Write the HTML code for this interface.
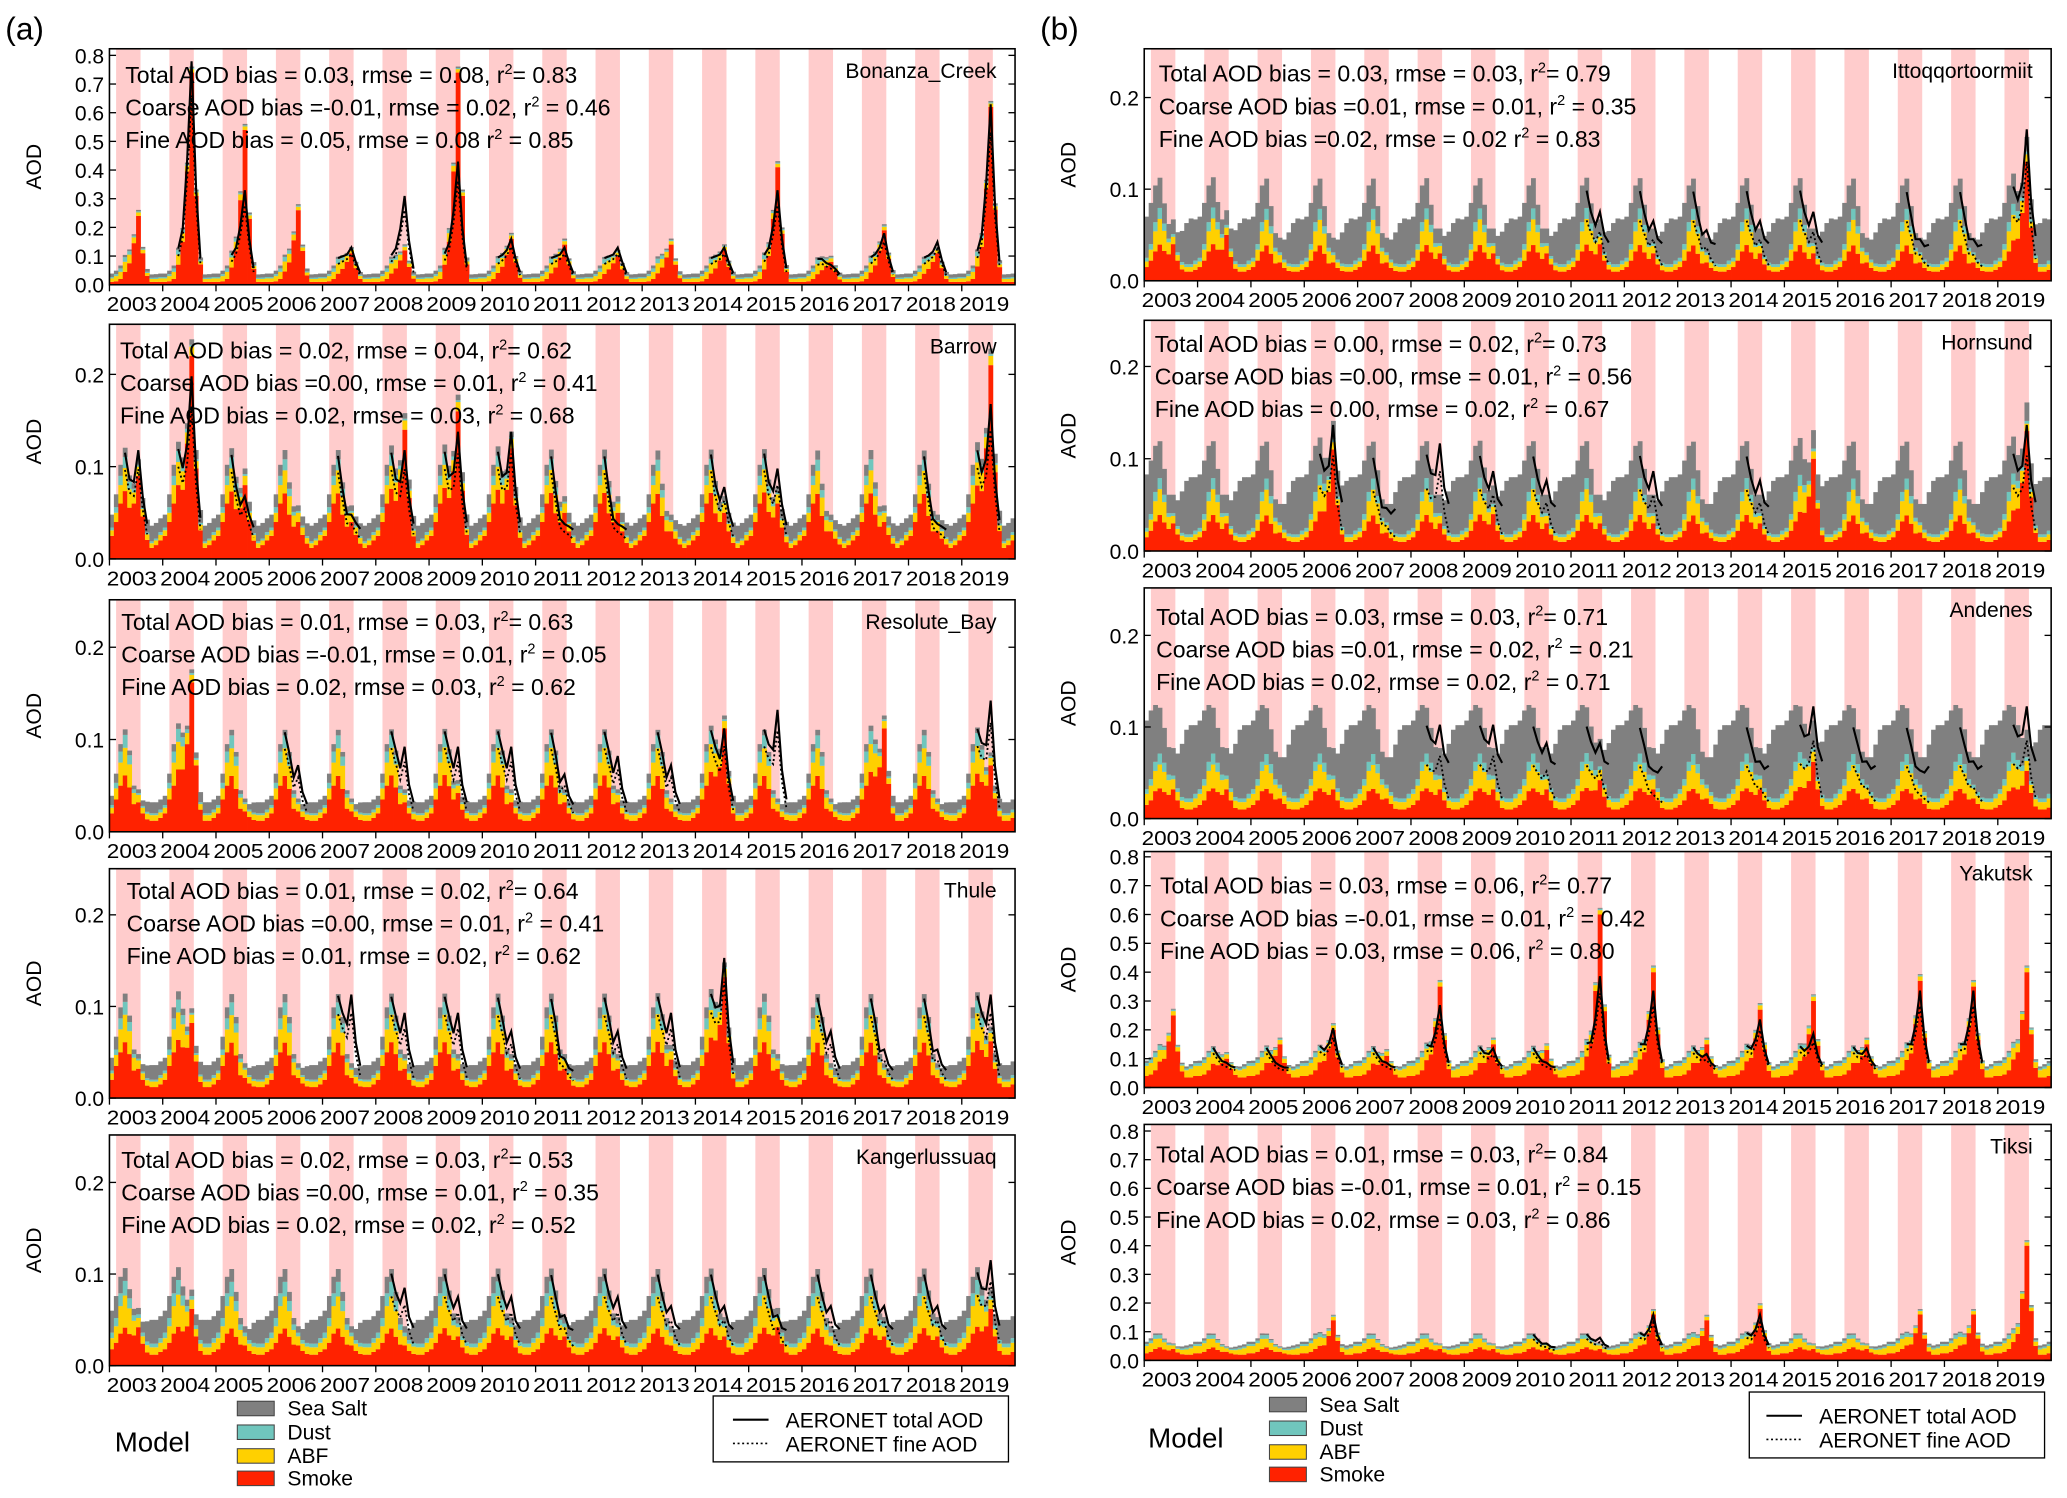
<!DOCTYPE html>
<html><head><meta charset="utf-8"><style>
html,body{margin:0;padding:0;background:#fff}
svg{display:block;font-family:"Liberation Sans",Arial,sans-serif}
</style></head><body>
<svg id="fig" width="2067" height="1498" viewBox="0 0 1568 1136.4" xmlns="http://www.w3.org/2000/svg"></svg>
<script>
// ---------------- DATA ----------------
const years=[2003,2004,2005,2006,2007,2008,2009,2010,2011,2012,2013,2014,2015,2016,2017,2018,2019];
const peakShape=[0,0,0,0.05,0.15,0.5,1,0.4,0.08,0,0,0];
// Bonanza_Creek
const bonSmoke=[.01,.012,.02,.035,.045,.045,.04,.03,.015,.01,.01,.01];
const bonAbf=[.012,.018,.025,.035,.03,.02,.012,.012,.01,.01,.01,.012];
const bonDust=[.005,.007,.012,.016,.012,.006,.004,.004,.004,.004,.005,.005];
const bonSalt=[.012,.012,.01,.008,.006,.005,.005,.006,.01,.012,.012,.012];
const bonPeak=[.2,.7,.5,.22,.07,.08,.7,.12,.1,.06,.1,.08,.37,.04,.15,.07,.58];
const bonAero=[0,.75,.3,0,.1,.28,.4,.13,.1,.1,0,.1,.3,.04,.15,.12,.6];
// Barrow
const barSmoke=[.025,.04,.06,.07,.045,.025,.02,.018,.015,.012,.015,.02];
const barAbf=[.006,.01,.02,.025,.02,.012,.01,.008,.006,.005,.005,.006];
const barDust=[.003,.006,.01,.012,.008,.004,.002,.002,.002,.002,.002,.003];
const barSalt=[.014,.014,.012,.01,.007,.006,.006,.01,.014,.017,.017,.015];
const barPeak=[.07,.2,.06,.02,.02,.12,.14,.1,.03,.03,.01,.03,.04,.01,.02,.01,.19];
const barAero=[.1,.18,.05,0,.03,.1,.12,.12,.02,.02,0,.06,.08,0,0,.02,.15];
// Resolute_Bay
const resSmoke=[.02,.035,.05,.06,.045,.02,.012,.012,.012,.012,.012,.015];
const resAbf=[.006,.012,.025,.03,.025,.012,.008,.006,.006,.006,.006,.006];
const resDust=[.003,.006,.012,.014,.01,.004,.002,.002,.002,.002,.002,.003];
const resSalt=[.01,.01,.008,.006,.005,.004,.004,.006,.011,.012,.012,.011];
const resPeak=[.02,.15,.01,.01,.01,.02,.03,.02,.02,.02,.01,.1,.01,.01,.1,.01,.06];
const resAero=[0,0,0,.06,0,.08,.08,.08,.05,.07,.06,.1,.12,0,0,0,.13];
// Thule
const thuSmoke=[.02,.035,.05,.06,.045,.02,.012,.012,.012,.012,.012,.015];
const thuAbf=[.007,.012,.025,.03,.025,.014,.009,.007,.006,.006,.006,.007];
const thuDust=[.003,.006,.012,.014,.01,.004,.002,.002,.002,.002,.002,.003];
const thuSalt=[.014,.014,.012,.009,.007,.005,.005,.008,.014,.016,.016,.015];
const thuPeak=[.02,.07,.01,.01,.01,.02,.02,.02,.02,.02,.03,.12,.02,.01,.01,.01,.05];
const thuAero=[0,0,0,0,.1,.08,.08,.06,.03,.06,.08,.14,0,.06,.04,.04,.1];
// Kangerlussuaq
const kanSmoke=[.018,.025,.035,.04,.03,.018,.012,.012,.012,.012,.012,.015];
const kanAbf=[.012,.018,.03,.035,.028,.016,.01,.008,.008,.008,.008,.01];
const kanDust=[.006,.009,.014,.016,.011,.006,.004,.004,.004,.004,.004,.005];
const kanSalt=[.024,.024,.018,.014,.01,.007,.007,.012,.022,.026,.026,.024];
const kanPeak=[.03,.05,.01,.01,.01,.01,.02,.02,.02,.02,.01,.02,.03,.01,.02,.02,.05];
const kanAero=[0,0,0,0,0,.07,.06,.06,.04,.06,.05,.05,.04,.05,.05,.05,.1];
// Ittoqqortoormiit
const ittSmoke=[.015,.022,.032,.038,.028,.014,.01,.01,.01,.01,.01,.012];
const ittAbf=[.006,.012,.022,.028,.022,.013,.008,.006,.005,.005,.005,.006];
const ittDust=[.004,.006,.01,.012,.008,.004,.003,.003,.003,.003,.003,.004];
const ittSalt=[.045,.045,.04,.033,.022,.016,.016,.022,.034,.045,.05,.045];
const ittPeak=[.03,.04,.01,.01,.01,.02,.02,.02,.03,.02,.01,.02,.02,.01,.01,.01,.12];
const ittAero=[0,0,0,0,0,0,0,0,.06,.05,.04,.05,.06,0,.03,.03,.15];
// Hornsund
const horSmoke=[.015,.022,.032,.038,.028,.014,.01,.01,.01,.01,.01,.012];
const horAbf=[.006,.012,.022,.028,.022,.013,.008,.006,.005,.005,.005,.006];
const horDust=[.004,.006,.01,.012,.008,.004,.003,.003,.003,.003,.003,.004];
const horSalt=[.058,.058,.05,.04,.028,.02,.02,.028,.045,.058,.062,.058];
const horPeak=[.02,.02,.01,.1,.01,.02,.03,.02,.02,.02,.01,.02,.09,.01,.01,.01,.12];
const horAero=[0,0,0,.12,.03,.1,.07,.06,0,.07,0,.06,0,0,0,0,.12];
// Andenes
const andSmoke=[.015,.02,.03,.032,.026,.016,.012,.012,.01,.01,.01,.012];
const andAbf=[.012,.016,.022,.026,.022,.016,.011,.009,.008,.008,.008,.01];
const andDust=[.005,.007,.01,.012,.01,.006,.004,.004,.004,.004,.004,.005];
const andSalt=[.075,.075,.062,.05,.038,.03,.03,.038,.058,.075,.08,.075];
const andPeak=[.02,.02,.01,.02,.01,.02,.02,.02,.03,.02,.01,.02,.05,.01,.01,.01,.04];
const andAero=[0,0,0,0,0,.08,.08,.06,.06,.03,0,.04,.1,.04,.03,.04,.1];
// Yakutsk
const yakSmoke=[.04,.045,.06,.08,.07,.06,.05,.045,.04,.035,.035,.04];
const yakAbf=[.035,.04,.045,.04,.03,.02,.015,.015,.02,.025,.03,.035];
const yakDust=[.01,.012,.016,.016,.011,.007,.005,.005,.005,.006,.008,.009];
const yakSalt=[.008,.008,.006,.005,.004,.003,.003,.003,.005,.007,.008,.008];
const yakPeak=[.2,.05,.1,.15,.06,.3,.1,.08,.55,.35,.1,.22,.25,.1,.32,.3,.35];
const yakAero=[0,.05,.04,.17,.05,.25,.1,.05,.35,.3,.08,.2,.15,.1,.3,.3,0];
// Tiksi
const tikSmoke=[.025,.03,.04,.045,.035,.025,.02,.02,.02,.02,.02,.025];
const tikAbf=[.025,.03,.035,.03,.025,.018,.012,.012,.015,.018,.022,.025];
const tikDust=[.007,.009,.013,.013,.009,.006,.004,.004,.005,.006,.006,.007];
const tikSalt=[.008,.008,.006,.005,.004,.003,.003,.005,.007,.008,.008,.008];
const tikPeak=[.02,.01,.01,.12,.01,.02,.02,.02,.02,.14,.12,.16,.02,.02,.14,.14,.38];
const tikAero=[0,0,0,0,0,0,0,.04,.06,.14,0,.14,0,0,0,0,0];

const statsBon=["Total AOD bias = 0.03, rmse = 0.08, r|2|= 0.83","Coarse AOD bias =-0.01, rmse = 0.02, r|2| = 0.46","Fine AOD bias = 0.05, rmse = 0.08 r|2| = 0.85"];
const statsBar=["Total AOD bias = 0.02, rmse = 0.04, r|2|= 0.62","Coarse AOD bias =0.00, rmse = 0.01, r|2| = 0.41","Fine AOD bias = 0.02, rmse = 0.03, r|2| = 0.68"];
const statsRes=["Total AOD bias = 0.01, rmse = 0.03, r|2|= 0.63","Coarse AOD bias =-0.01, rmse = 0.01, r|2| = 0.05","Fine AOD bias = 0.02, rmse = 0.03, r|2| = 0.62"];
const statsThu=["Total AOD bias = 0.01, rmse = 0.02, r|2|= 0.64","Coarse AOD bias =0.00, rmse = 0.01, r|2| = 0.41","Fine AOD bias = 0.01, rmse = 0.02, r|2| = 0.62"];
const statsKan=["Total AOD bias = 0.02, rmse = 0.03, r|2|= 0.53","Coarse AOD bias =0.00, rmse = 0.01, r|2| = 0.35","Fine AOD bias = 0.02, rmse = 0.02, r|2| = 0.52"];
const statsItt=["Total AOD bias = 0.03, rmse = 0.03, r|2|= 0.79","Coarse AOD bias =0.01, rmse = 0.01, r|2| = 0.35","Fine AOD bias =0.02, rmse = 0.02 r|2| = 0.83"];
const statsHor=["Total AOD bias = 0.00, rmse = 0.02, r|2|= 0.73","Coarse AOD bias =0.00, rmse = 0.01, r|2| = 0.56","Fine AOD bias = 0.00, rmse = 0.02, r|2| = 0.67"];
const statsAnd=["Total AOD bias = 0.03, rmse = 0.03, r|2|= 0.71","Coarse AOD bias =0.01, rmse = 0.02, r|2| = 0.21","Fine AOD bias = 0.02, rmse = 0.02, r|2| = 0.71"];
const statsYak=["Total AOD bias = 0.03, rmse = 0.06, r|2|= 0.77","Coarse AOD bias =-0.01, rmse = 0.01, r|2| = 0.42","Fine AOD bias = 0.03, rmse = 0.06, r|2| = 0.80"];
const statsTik=["Total AOD bias = 0.01, rmse = 0.03, r|2|= 0.84","Coarse AOD bias =-0.01, rmse = 0.01, r|2| = 0.15","Fine AOD bias = 0.02, rmse = 0.03, r|2| = 0.86"];
const ticksBig=[0,.1,.2,.3,.4,.5,.6,.7,.8];
const ticksSmall=[0,.1,.2];

// ---------------- DRAW ----------------
const NS="http://www.w3.org/2000/svg";
const svg=document.getElementById('fig');
function mk(tag,attrs,parent){const e=document.createElementNS(NS,tag);for(const k in attrs)e.setAttribute(k,attrs[k]);(parent||svg).appendChild(e);return e;}
const COL={salt:'#808080',dust:'#70c6bd',abf:'#ffd000',smoke:'#ff2200',pink:'#ffcccc'};

const panels=[
 {key:'bonanza',name:'Bonanza_Creek',x0:83,x1:770,top:37,y0:216,ppu:217.5,ticks:ticksBig,s:bonSmoke,a:bonAbf,d:bonDust,ss:bonSalt,pk:bonPeak,ae:bonAero,st:statsBon,tx:95,ty:63},
 {key:'barrow',name:'Barrow',x0:83,x1:770,top:246,y0:424,ppu:700,ticks:ticksSmall,s:barSmoke,a:barAbf,d:barDust,ss:barSalt,pk:barPeak,ae:barAero,st:statsBar,tx:91,ty:272},
 {key:'resolute',name:'Resolute_Bay',x0:83,x1:770,top:455,y0:631,ppu:700,ticks:ticksSmall,s:resSmoke,a:resAbf,d:resDust,ss:resSalt,pk:resPeak,ae:resAero,st:statsRes,tx:92,ty:478},
 {key:'thule',name:'Thule',x0:83,x1:770,top:659,y0:833,ppu:695,ticks:ticksSmall,s:thuSmoke,a:thuAbf,d:thuDust,ss:thuSalt,pk:thuPeak,ae:thuAero,st:statsThu,tx:96,ty:682},
 {key:'kangerlussuaq',name:'Kangerlussuaq',x0:83,x1:770,top:861,y0:1036,ppu:695,ticks:ticksSmall,s:kanSmoke,a:kanAbf,d:kanDust,ss:kanSalt,pk:kanPeak,ae:kanAero,st:statsKan,tx:92,ty:886},
 {key:'ittoqqortoormiit',name:'Ittoqqortoormiit',x0:868,x1:1556,top:37,y0:213,ppu:695,ticks:ticksSmall,s:ittSmoke,a:ittAbf,d:ittDust,ss:ittSalt,pk:ittPeak,ae:ittAero,st:statsItt,tx:879,ty:62},
 {key:'hornsund',name:'Hornsund',x0:868,x1:1556,top:243,y0:418,ppu:700,ticks:ticksSmall,s:horSmoke,a:horAbf,d:horDust,ss:horSalt,pk:horPeak,ae:horAero,st:statsHor,tx:876,ty:267},
 {key:'andenes',name:'Andenes',x0:868,x1:1556,top:446,y0:621,ppu:695,ticks:ticksSmall,s:andSmoke,a:andAbf,d:andDust,ss:andSalt,pk:andPeak,ae:andAero,st:statsAnd,tx:877,ty:474},
 {key:'yakutsk',name:'Yakutsk',x0:868,x1:1556,top:646,y0:825,ppu:218.75,ticks:ticksBig,s:yakSmoke,a:yakAbf,d:yakDust,ss:yakSalt,pk:yakPeak,ae:yakAero,st:statsYak,tx:880,ty:678},
 {key:'tiksi',name:'Tiksi',x0:868,x1:1556,top:853,y0:1032,ppu:217.5,ticks:ticksBig,s:tikSmoke,a:tikAbf,d:tikDust,ss:tikSalt,pk:tikPeak,ae:tikAero,st:statsTik,tx:877,ty:882}
];

panels.forEach(p=>{
 const g=mk('g',{});
 
 
 const nM=years.length*12;
 const xs=i=>p.x0+i*(p.x1-p.x0)/nM;
 const ys=v=>Math.max(p.top,p.y0-v*p.ppu);
 years.forEach((yr,yi)=>{
  const r=mk('rect',{x:xs(yi*12+1.5),y:p.top,width:xs(yi*12+7)-xs(yi*12+1.5),height:p.y0-p.top,fill:COL.pink},g);
  
  
 });
 years.forEach((yr,yi)=>{
  for(let m=0;m<12;m++){
   const i=yi*12+m;
   const comps=[['smoke',p.s[m]+p.pk[yi]*peakShape[m]],['abf',p.a[m]],['dust',p.d[m]],['salt',p.ss[m]]];
   let cum=0;
   comps.forEach(([c,v])=>{
    const yb=ys(cum),yt=ys(cum+v);cum+=v;
    if(yb-yt<=0)return;
    const r=mk('rect',{x:xs(i),y:yt,width:xs(i+1)-xs(i)+0.3,height:yb-yt,fill:COL[c]},g);
    
    
   });
  }
 });
 years.forEach((yr,yi)=>{
  if(!p.ae[yi])return;
  let pt=[],pf=[];
  for(let m=3;m<=8;m++){
   const base=p.s[m]+p.a[m]+p.d[m]+p.ss[m]*0.6;
   const v=base+(p.ae[yi]-base*0.5)*peakShape[m];
   const fv=(p.s[m]+p.a[m])+(p.ae[yi]*0.85-base*0.5)*peakShape[m];
   const xc=(xs(yi*12+m)+xs(yi*12+m+1))/2;
   pt.push(xc.toFixed(1)+','+ys(v).toFixed(1));pf.push(xc.toFixed(1)+','+ys(fv).toFixed(1));
  }
  const l1=mk('polyline',{points:pt.join(' '),fill:'none',stroke:'#000','stroke-width':1.6},g);
  
  
  const l2=mk('polyline',{points:pf.join(' '),fill:'none',stroke:'#000','stroke-width':1.4,'stroke-dasharray':'1.5,2'},g);
  
  
 });
 const fr=mk('rect',{x:p.x0,y:p.top,width:p.x1-p.x0,height:p.y0-p.top,fill:'none',stroke:'#000','stroke-width':1.2},g);
 
 
 p.ticks.forEach(t=>{
  const y=p.y0-t*p.ppu;
  mk('line',{x1:p.x0,x2:p.x0+5,y1:y,y2:y,stroke:'#000','stroke-width':1},g);
  mk('line',{x1:p.x1,x2:p.x1-5,y1:y,y2:y,stroke:'#000','stroke-width':1},g);
  const tl=mk('text',{x:p.x0-4,y:y+6,'text-anchor':'end','font-size':16},g);
  tl.textContent=t.toFixed(1);
  
  
 });
 years.forEach((yr,yi)=>{
  const x=xs(yi*12);
  mk('line',{x1:x,x2:x,y1:p.y0,y2:p.y0+5,stroke:'#000','stroke-width':1},g);
  const xl=mk('text',{x:x-2,y:p.y0+20,'font-size':15.5,textLength:38,lengthAdjust:'spacingAndGlyphs'},g);
  xl.textContent=String(yr);
  
  
 });
 const yc=(p.top+p.y0)/2;
 const at=mk('text',{x:0,y:0,'font-size':16,'text-anchor':'middle',transform:`translate(${p.x0-52},${yc}) rotate(-90)`},g);
 at.textContent='AOD';
 
 
 const sn=mk('text',{x:p.x1-14,y:p.top+22,'text-anchor':'end','font-size':16},g);
 sn.textContent=p.name;
 
 
 p.st.forEach((s,k)=>{
  const parts=s.split('|');
  const t=mk('text',{x:p.tx,y:p.ty+k*24.7,'font-size':17.5},g);
  
  
  const a=mk('tspan',{},t);a.textContent=parts[0];
  const b=mk('tspan',{dy:-7,'font-size':11},t);b.textContent=parts[1];
  const c=mk('tspan',{dy:7},t);c.textContent=parts[2];
 });
});

[['(a)',4,30],['(b)',789,30]].forEach(([s,x,y])=>{
 const t=mk('text',{x:x,y:y,'font-size':24});t.textContent=s;
 
 
});

[{mx:87,sx:180,bx:541,by:1059,lx:556,ty:1059},{mx:871,sx:963,bx:1327,by:1056,lx:1340,ty:1056}].forEach((L,li)=>{
 const g=mk('g',{});
 
 
 const mt=mk('text',{x:L.mx,y:L.ty+42,'font-size':21},g);mt.textContent='Model';
 
 
 [['Sea Salt','salt',0],['Dust','dust',18],['ABF','abf',36],['Smoke','smoke',53]].forEach(([lab,c,dy])=>{
  const r=mk('rect',{x:L.sx,y:L.ty+4+dy,width:28,height:11,fill:COL[c],stroke:'#444','stroke-width':0.8},g);
  
  
  const t=mk('text',{x:L.sx+38,y:L.ty+15+dy,'font-size':16},g);t.textContent=lab;
  
  
 });
 const bx=mk('rect',{x:L.bx,y:L.by,width:224,height:50,fill:'#fff',stroke:'#000','stroke-width':1},g);
 
 
 mk('line',{x1:L.lx,x2:L.lx+27,y1:L.by+18,y2:L.by+18,stroke:'#000','stroke-width':1.6},g);
 mk('line',{x1:L.lx,x2:L.lx+27,y1:L.by+36,y2:L.by+36,stroke:'#000','stroke-width':1.2,'stroke-dasharray':'1.5,2'},g);
 const t1=mk('text',{x:L.lx+40,y:L.by+24,'font-size':16},g);t1.textContent='AERONET total AOD';
 
 
 const t2=mk('text',{x:L.lx+40,y:L.by+42,'font-size':16},g);t2.textContent='AERONET fine AOD';
 
 
});
</script>
</body></html>
